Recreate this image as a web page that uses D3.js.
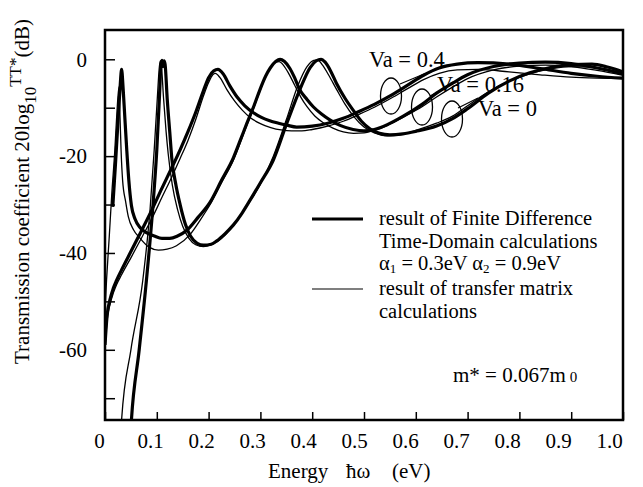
<!DOCTYPE html>
<html>
<head>
<meta charset="utf-8">
<script src="https://cdn.jsdelivr.net/npm/d3@7"></script>
<style>
  body { margin: 0; background: #fff; }
  svg text { font-family: "Liberation Serif", "Times New Roman", serif; fill: #000; }
</style>
</head>
<body>
<svg id="chart" width="643" height="487"></svg>
<script>
// [energy (eV), 20log10 TT* (dB)]
// Va = 0
const va0Fdtd = [[0.049,-78],[0.051,-74.5],[0.066,-60],[0.08,-45.6],[0.092,-31],[0.100,-18.7],[0.105,-8],
  [0.108,-1.2],[0.110,-0.2],[0.112,-1.5],[0.114,-0.3],[0.116,-1],[0.12,-8],[0.125,-15],[0.129,-20.5],
  [0.137,-26],[0.145,-30],[0.155,-34],[0.165,-36.5],[0.178,-38],[0.19,-38.4],[0.205,-38.2],[0.216,-37.5],
  [0.232,-36],[0.248,-34.2],[0.265,-31.7],[0.28,-29.1],[0.3,-25.5],[0.325,-20.8],[0.351,-13.2],[0.376,-6.3],
  [0.396,-1.7],[0.408,-0.3],[0.417,0],[0.425,-0.6],[0.436,-2.5],[0.447,-5],[0.463,-8],[0.479,-10.5],
  [0.495,-12.8],[0.512,-14.4],[0.53,-15.3],[0.55,-15.6],[0.575,-15.4],[0.6,-14.9],[0.64,-13.8],[0.67,-12.3],
  [0.7,-10.2],[0.74,-7],[0.78,-4.5],[0.82,-2.8],[0.86,-1.7],[0.9,-1.1],[0.94,-1.0],[0.97,-1.6],[1.0,-2.6]];
const va0Tm = [[0.030,-78],[0.032,-74.5],[0.05,-60],[0.073,-45.6],[0.087,-31],[0.095,-18.7],[0.101,-8],
  [0.105,-1.5],[0.107,-0.3],[0.109,-1.5],[0.113,-8],[0.118,-15],[0.122,-19.5],[0.13,-26],[0.14,-31],
  [0.15,-34.5],[0.162,-37],[0.175,-38.3],[0.19,-38.7],[0.205,-38.3],[0.232,-36.3],[0.25,-34],[0.28,-29.3],
  [0.3,-25.8],[0.325,-20],[0.35,-12.5],[0.372,-5.5],[0.39,-1.5],[0.403,-0.2],[0.41,-0.1],[0.42,-1.2],
  [0.432,-3.3],[0.447,-6.2],[0.463,-9.2],[0.48,-11.8],[0.5,-14],[0.52,-15.2],[0.545,-15.8],[0.57,-15.6],
  [0.6,-14.7],[0.64,-13.2],[0.67,-11.8],[0.7,-9.6],[0.74,-6.7],[0.78,-4.5],[0.82,-3.0],[0.86,-2.0],
  [0.9,-1.5],[0.94,-1.6],[0.97,-2.1],[1.0,-3.0]];

// Va = 0.16
const va016Fdtd = [[0.015,-30.5],[0.02,-22],[0.025,-13],[0.029,-6],[0.032,-2.1],[0.035,-6],[0.038,-11.5],
  [0.042,-18.7],[0.046,-25],[0.051,-30.2],[0.058,-33],[0.068,-34.8],[0.08,-35.8],[0.095,-36.5],[0.11,-37],
  [0.125,-37],[0.14,-36.5],[0.158,-35.3],[0.18,-32.6],[0.203,-29.5],[0.225,-25],[0.248,-20.3],[0.262,-16.5],
  [0.274,-13.2],[0.288,-9.5],[0.299,-6.3],[0.31,-3.5],[0.319,-1.8],[0.33,-0.4],[0.338,0],[0.346,-0.4],
  [0.357,-1.9],[0.366,-3.8],[0.376,-6.3],[0.39,-8.3],[0.402,-9.8],[0.418,-11.3],[0.434,-12.5],[0.455,-13.7],
  [0.479,-14.5],[0.5,-14.8],[0.52,-14.5],[0.545,-13.5],[0.575,-11.8],[0.612,-9.3],[0.64,-7],[0.67,-5],
  [0.7,-3.2],[0.75,-1.5],[0.8,-0.8],[0.85,-0.6],[0.9,-0.9],[0.95,-1.8],[1.0,-3.0]];
const va016Tm = [[0.0,-52],[0.003,-45.6],[0.008,-37],[0.013,-28],[0.019,-18.7],[0.023,-11],[0.027,-5.7],
  [0.029,-12],[0.031,-18.7],[0.034,-25],[0.04,-29.5],[0.045,-32.5],[0.055,-35.2],[0.068,-37],[0.085,-38.8],
  [0.103,-39.4],[0.12,-39.2],[0.138,-38.5],[0.164,-36.2],[0.185,-33],[0.203,-30],[0.225,-25.5],[0.248,-20.8],
  [0.262,-17],[0.274,-13.6],[0.288,-9.8],[0.3,-6.3],[0.31,-3.6],[0.32,-1.6],[0.33,-0.6],[0.336,-0.5],
  [0.345,-1.3],[0.355,-3],[0.366,-5.3],[0.378,-7.8],[0.39,-9.8],[0.405,-11.7],[0.42,-13],[0.44,-14.2],
  [0.46,-15],[0.48,-15.3],[0.5,-15.2],[0.52,-14.7],[0.545,-13.7],[0.575,-12],[0.612,-9.8],[0.64,-7.8],
  [0.67,-5.8],[0.7,-4],[0.75,-2.2],[0.8,-1.4],[0.85,-1.2],[0.9,-1.5],[0.95,-2.3],[1.0,-3.3]];

// Va = 0.4
const va04Fdtd = [[0,-59],[0.004,-53],[0.01,-49.5],[0.016,-47.3],[0.0225,-45.6],[0.032,-43.5],[0.051,-39.5],
  [0.07,-35.5],[0.09,-31.2],[0.11,-26.6],[0.128,-22.6],[0.145,-18.7],[0.16,-15],[0.175,-11],[0.19,-6.5],
  [0.2,-3.8],[0.21,-2.4],[0.218,-2.1],[0.228,-3],[0.241,-5.5],[0.255,-7.8],[0.27,-9.6],[0.286,-11],
  [0.302,-12],[0.318,-12.7],[0.335,-13.2],[0.351,-13.6],[0.37,-14],[0.4,-13.8],[0.43,-13.2],[0.46,-12.2],
  [0.49,-10.8],[0.52,-9.3],[0.553,-7.4],[0.585,-5.3],[0.615,-3.3],[0.645,-1.8],[0.68,-1.0],[0.72,-0.7],
  [0.78,-1.0],[0.84,-1.9],[0.9,-2.9],[0.95,-3.5],[1.0,-3.9]];
const va04Tm = [[0,-60],[0.004,-54],[0.01,-50.5],[0.016,-48.3],[0.0225,-46.5],[0.032,-44.5],[0.051,-40.8],
  [0.07,-37],[0.09,-33],[0.11,-28.5],[0.128,-24.5],[0.145,-20.5],[0.16,-16.8],[0.175,-12.5],[0.19,-7.6],
  [0.2,-4.8],[0.208,-3.2],[0.213,-2.9],[0.222,-3.8],[0.235,-6.2],[0.25,-8.6],[0.265,-10.5],[0.28,-12],
  [0.3,-13.3],[0.32,-14.1],[0.34,-14.6],[0.36,-14.8],[0.38,-14.8],[0.4,-14.5],[0.43,-13.8],[0.46,-12.8],
  [0.49,-11.4],[0.52,-9.9],[0.553,-8],[0.585,-6],[0.615,-4.2],[0.645,-2.9],[0.68,-2.2],[0.72,-2.1],
  [0.78,-2.6],[0.84,-3.2],[0.9,-3.7],[0.95,-3.9],[1.0,-4.0]];

const yTicks = [0, -10, -20, -30, -40, -50, -60, -70];
const xTicks = [0, 0.1, 0.2, 0.3, 0.4, 0.5, 0.6, 0.7, 0.8, 0.9, 1.0];

const svg = d3.select("#chart");
const x = d3.scaleLinear().domain([0, 1]).range([105, 623]);
const y = d3.scaleLinear().domain([-74.5, 6.05]).range([420, 30]);

svg.append("clipPath").attr("id", "plotclip")
  .append("rect").attr("x", 105).attr("y", 30).attr("width", 518).attr("height", 390);

const line = d3.line().x(d => x(d[0])).y(d => y(d[1])).curve(d3.curveMonotoneX);

const series = [
  { data: va04Tm, w: 1.3 }, { data: va016Tm, w: 1.3 }, { data: va0Tm, w: 1.3 },
  { data: va04Fdtd, w: 3.2 }, { data: va016Fdtd, w: 3.2 }, { data: va0Fdtd, w: 3.2 }
];

svg.append("g").attr("clip-path", "url(#plotclip)")
  .selectAll("path").data(series).join("path")
  .attr("d", d => line(d.data))
  .attr("fill", "none").attr("stroke", "#000")
  .attr("stroke-width", d => d.w).attr("stroke-linejoin", "round");

// axes, ticks pointing inward
const yAxis = svg.append("g").attr("transform", "translate(105,0)")
  .call(d3.axisLeft(y).tickValues(yTicks).tickSize(-10).tickPadding(18)
    .tickFormat(d => d % 20 === 0 ? String(d) : ""));
yAxis.select(".domain").remove();
yAxis.selectAll("line").attr("stroke-width", 1.5);
yAxis.selectAll("text").attr("font-size", 21).attr("font-family", "Liberation Serif");

const xAxis = svg.append("g").attr("transform", "translate(0,420)")
  .call(d3.axisBottom(x).tickValues(xTicks).tickSize(-8).tickPadding(13)
    .tickFormat(d => d === 0 ? "0" : d3.format(".1f")(d)));
xAxis.select(".domain").remove();
xAxis.selectAll("line").attr("stroke-width", 1.5);
xAxis.selectAll("text").attr("font-size", 21).attr("font-family", "Liberation Serif")
  .attr("dx", d => -6 - 8 * d);

svg.append("rect").attr("x", 105).attr("y", 30).attr("width", 518).attr("height", 390)
  .attr("fill", "none").attr("stroke", "#000").attr("stroke-width", 2.5);

// axis titles
const yt = svg.append("text").attr("transform", "translate(29,364) rotate(-90)")
  .attr("font-size", 21);
yt.append("tspan").text("Transmission coefficient  20log");
yt.append("tspan").attr("dy", 7).attr("font-size", 17).text("10");
yt.append("tspan").attr("dy", -15).attr("font-size", 17).text("TT*");
yt.append("tspan").attr("dy", 8).text("(dB)");

const xt = svg.append("text").attr("y", 478).attr("font-size", 21);
xt.append("tspan").attr("x", 268).text("Energy");
xt.append("tspan").attr("x", 346).text("ħω");
xt.append("tspan").attr("x", 392).text("(eV)");

// legend
svg.append("line").attr("x1", 312).attr("x2", 363).attr("y1", 219).attr("y2", 219)
  .attr("stroke", "#000").attr("stroke-width", 3.2);
svg.append("line").attr("x1", 312).attr("x2", 363).attr("y1", 289).attr("y2", 289)
  .attr("stroke", "#000").attr("stroke-width", 1.2);
const legendLines = [
  { t: "result of Finite Difference", y: 225 },
  { t: "Time-Domain calculations", y: 248 },
  { t: "result of transfer matrix", y: 295 },
  { t: "calculations", y: 318 }
];
svg.selectAll("text.leg").data(legendLines).join("text").attr("class", "leg")
  .attr("x", 379).attr("y", d => d.y).attr("font-size", 20.5).text(d => d.t);

const alpha = svg.append("text").attr("x", 379).attr("y", 270).attr("font-size", 20.5);
alpha.append("tspan").text("α");
alpha.append("tspan").attr("dy", 3).attr("font-size", 13).text("1");
alpha.append("tspan").attr("dy", -3).text(" = 0.3eV  α");
alpha.append("tspan").attr("dy", 3).attr("font-size", 13).text("2");
alpha.append("tspan").attr("dy", -3).text(" = 0.9eV");

const mass = svg.append("text").attr("x", 453).attr("y", 382).attr("font-size", 21);
mass.append("tspan").text("m* = 0.067m");
mass.append("tspan").attr("dx", 4).attr("font-size", 15).text("0");

// Va annotations
const vaLabels = [
  { t: "Va = 0.4", x: 369, y: 67, cx: 391, cy: 96 },
  { t: "Va = 0.16", x: 437, y: 92, cx: 422, cy: 107 },
  { t: "Va = 0", x: 478, y: 116, cx: 452, cy: 119 }
];
svg.selectAll("text.va").data(vaLabels).join("text").attr("class", "va")
  .attr("x", d => d.x).attr("y", d => d.y).attr("font-size", 22.5).text(d => d.t);
svg.selectAll("ellipse.va").data(vaLabels).join("ellipse").attr("class", "va")
  .attr("cx", d => d.cx).attr("cy", d => d.cy).attr("rx", 10.5).attr("ry", 18)
  .attr("fill", "none").attr("stroke", "#000").attr("stroke-width", 1.3);
svg.append("path").attr("d", "M400,84L424,74M430,96L446,88M458,108L478,98")
  .attr("fill", "none").attr("stroke", "#000").attr("stroke-width", 1.2);
</script>
</body>
</html>
